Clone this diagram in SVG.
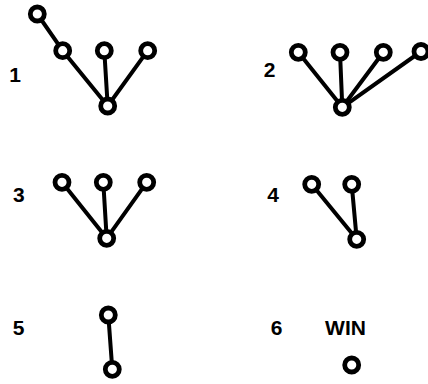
<svg xmlns="http://www.w3.org/2000/svg" width="428" height="384" viewBox="0 0 428 384">
<style>
.lbl{font-family:"Liberation Sans",Arial,sans-serif;font-weight:bold;font-size:21px;fill:#000;text-anchor:middle}
.e{stroke:#000;stroke-width:4;stroke-linecap:round;fill:none}
.n{fill:#fff;stroke:#000;stroke-width:4.8}
</style>
<rect width="428" height="384" fill="#fff"/>
<g id="connectors">
<line class="e" x1="37.3" y1="14" x2="62.7" y2="50.7"/>
<line class="e" x1="62.7" y1="50.7" x2="107.7" y2="106"/>
<line class="e" x1="104.3" y1="50.7" x2="107.7" y2="106"/>
<line class="e" x1="147.7" y1="50.7" x2="107.7" y2="106"/>
<line class="e" x1="298.3" y1="52.3" x2="342.3" y2="107.3"/>
<line class="e" x1="340" y1="52.3" x2="342.3" y2="107.3"/>
<line class="e" x1="383.3" y1="52.3" x2="342.3" y2="107.3"/>
<line class="e" x1="421" y1="51.5" x2="342.3" y2="107.3"/>
<line class="e" x1="62" y1="182.3" x2="106.7" y2="238.3"/>
<line class="e" x1="103.3" y1="182.3" x2="106.7" y2="238.3"/>
<line class="e" x1="146.7" y1="182.3" x2="106.7" y2="238.3"/>
<line class="e" x1="311.7" y1="184.3" x2="356.7" y2="239.3"/>
<line class="e" x1="351.7" y1="184.3" x2="356.7" y2="239.3"/>
<line class="e" x1="108.3" y1="315" x2="112.3" y2="369.3"/>
</g>
<g id="labels">
<text class="lbl" x="15" y="81.7">1</text>
<text class="lbl" x="269.5" y="76.7">2</text>
<text class="lbl" x="18.8" y="201.7">3</text>
<text class="lbl" x="273.2" y="201.7">4</text>
<text class="lbl" x="18.5" y="335">5</text>
<text class="lbl" x="276.5" y="335">6</text>
<text class="lbl" x="345.5" y="335">WIN</text>
</g>
<g id="tree1">
<circle class="n" cx="37.3" cy="14" r="7"/>
<circle class="n" cx="62.7" cy="50.7" r="7"/>
<circle class="n" cx="104.3" cy="50.7" r="7"/>
<circle class="n" cx="147.7" cy="50.7" r="7"/>
<circle class="n" cx="107.7" cy="106" r="7"/>
</g>
<g id="tree2">
<circle class="n" cx="298.3" cy="52.3" r="7"/>
<circle class="n" cx="340" cy="52.3" r="7"/>
<circle class="n" cx="383.3" cy="52.3" r="7"/>
<circle class="n" cx="421" cy="51.5" r="7"/>
<circle class="n" cx="342.3" cy="107.3" r="7"/>
</g>
<g id="tree3">
<circle class="n" cx="62" cy="182.3" r="7"/>
<circle class="n" cx="103.3" cy="182.3" r="7"/>
<circle class="n" cx="146.7" cy="182.3" r="7"/>
<circle class="n" cx="106.7" cy="238.3" r="7"/>
</g>
<g id="tree4">
<circle class="n" cx="311.7" cy="184.3" r="7"/>
<circle class="n" cx="351.7" cy="184.3" r="7"/>
<circle class="n" cx="356.7" cy="239.3" r="7"/>
</g>
<g id="tree5">
<circle class="n" cx="108.3" cy="315" r="7"/>
<circle class="n" cx="112.3" cy="369.3" r="7"/>
</g>
<g id="tree6">
<circle class="n" cx="351.7" cy="365" r="7"/>
</g>
</svg>
